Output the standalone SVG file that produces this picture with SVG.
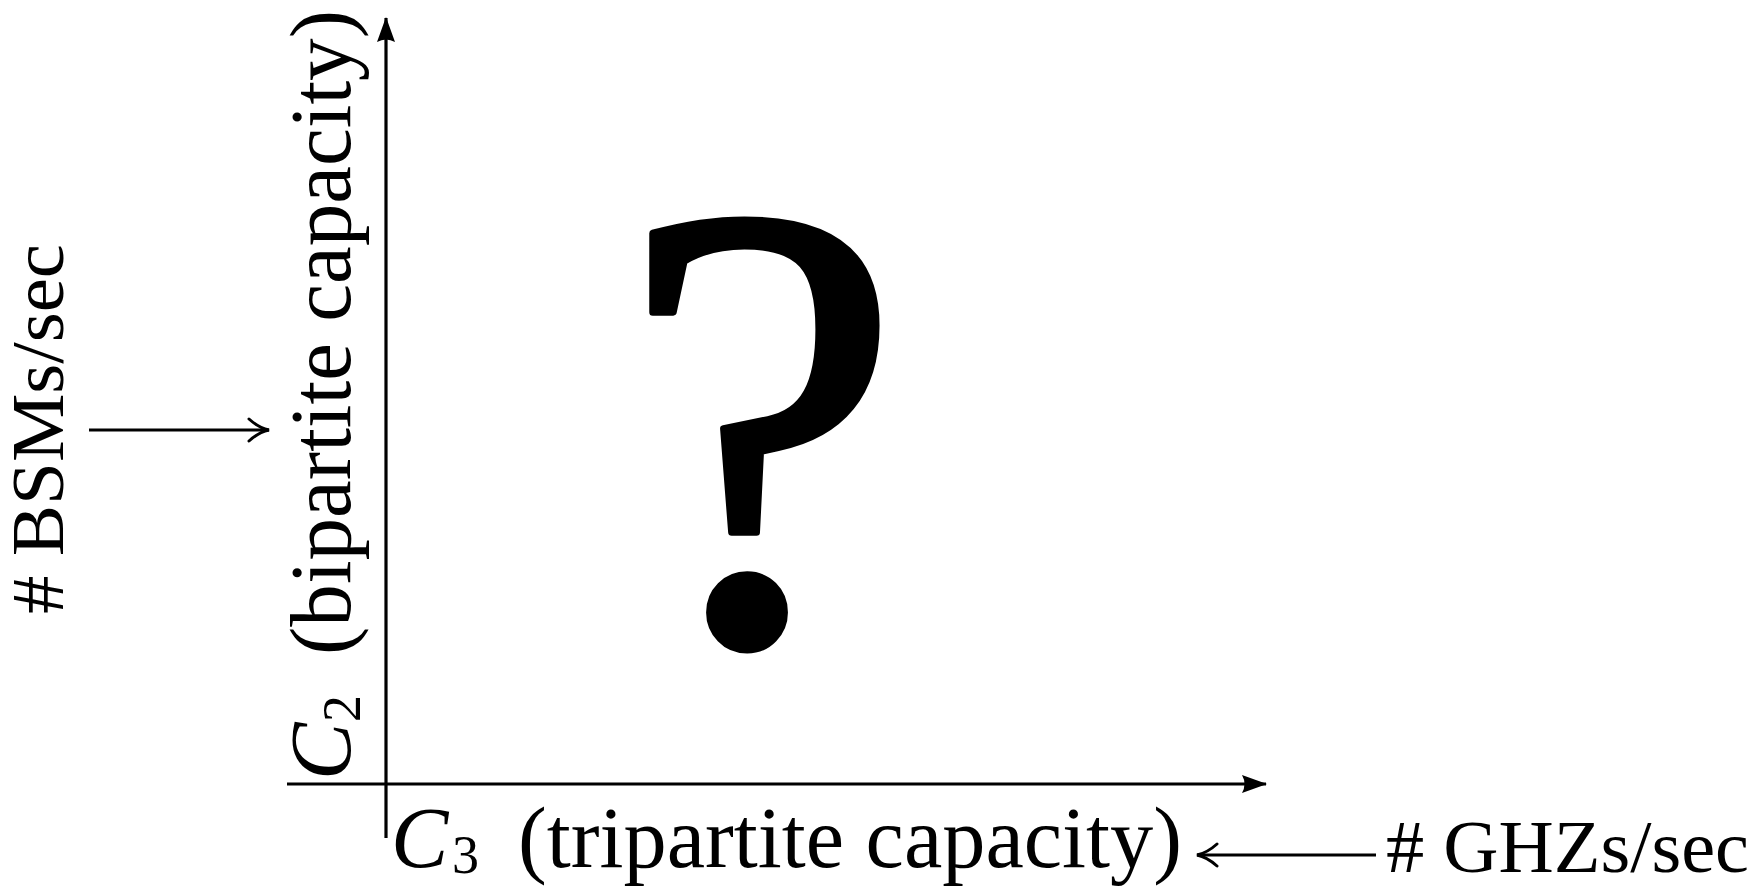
<svg xmlns="http://www.w3.org/2000/svg" width="1758" height="887" viewBox="0 0 1758 887">
<style>
.cm{font-family:"Liberation Serif","Times New Roman",serif;fill:#000}
.lbl{font-family:"Liberation Serif","Times New Roman",serif;fill:#000;font-size:75px}
.axis{stroke:#000;stroke-width:3.2;fill:none}
.conn{stroke:#000;stroke-width:3;fill:none}
</style>
<defs>
<marker id="latex" markerUnits="userSpaceOnUse" viewBox="-26 -11 28 22" refX="0" refY="0" markerWidth="28" markerHeight="22" orient="auto">
<path d="M1 0 L-24 -9 Q-19 0 -24 9 Z" fill="#000"/>
</marker>
<marker id="tex" markerUnits="userSpaceOnUse" viewBox="-24 -13 26 26" refX="0" refY="0" markerWidth="26" markerHeight="26" orient="auto">
<path d="M-20 -11 Q-10 -2 0 0 Q-10 2 -20 11" fill="none" stroke="#000" stroke-width="3" stroke-linecap="round"/>
</marker>
</defs>
<rect width="1758" height="887" fill="#fff"/>
<g id="connectors">
<line class="axis" x1="386" y1="838" x2="386" y2="18" marker-end="url(#latex)"/>
<line class="axis" x1="287" y1="784" x2="1266" y2="784" marker-end="url(#latex)"/>
<line class="conn" x1="89" y1="430" x2="269" y2="430" marker-end="url(#tex)"/>
<line class="conn" x1="1376" y1="855" x2="1197" y2="855" marker-end="url(#tex)"/>
</g>
<g id="c2-label" transform="translate(350,774) rotate(-90)">
<text class="cm" x="-6" y="0" font-size="86" font-style="italic">C</text>
<text class="cm" x="52" y="10" font-size="54">2</text>
<text class="cm" x="119" y="0" font-size="86" textLength="645" lengthAdjust="spacingAndGlyphs">(bipartite capacity)</text>
</g>
<g id="c3-label">
<text class="cm" x="391" y="867" font-size="86" font-style="italic">C</text>
<text class="cm" x="452" y="873" font-size="54">3</text>
<text class="cm" x="518" y="867" font-size="86" textLength="664" lengthAdjust="spacingAndGlyphs">(tripartite capacity)</text>
</g>
<g id="bsm-label">
<text class="lbl" transform="translate(63,614) rotate(-90)" x="0" y="0" textLength="370" lengthAdjust="spacingAndGlyphs"># BSMs/sec</text>
</g>
<g id="ghz-label">
<text class="lbl" x="1386" y="872" textLength="363" lengthAdjust="spacingAndGlyphs"># GHZs/sec</text>
</g>
<g id="question">
<text class="cm" x="761" y="641" font-size="636" text-anchor="middle" stroke="#000" stroke-width="7" stroke-linejoin="round">?</text>
</g>
</svg>
